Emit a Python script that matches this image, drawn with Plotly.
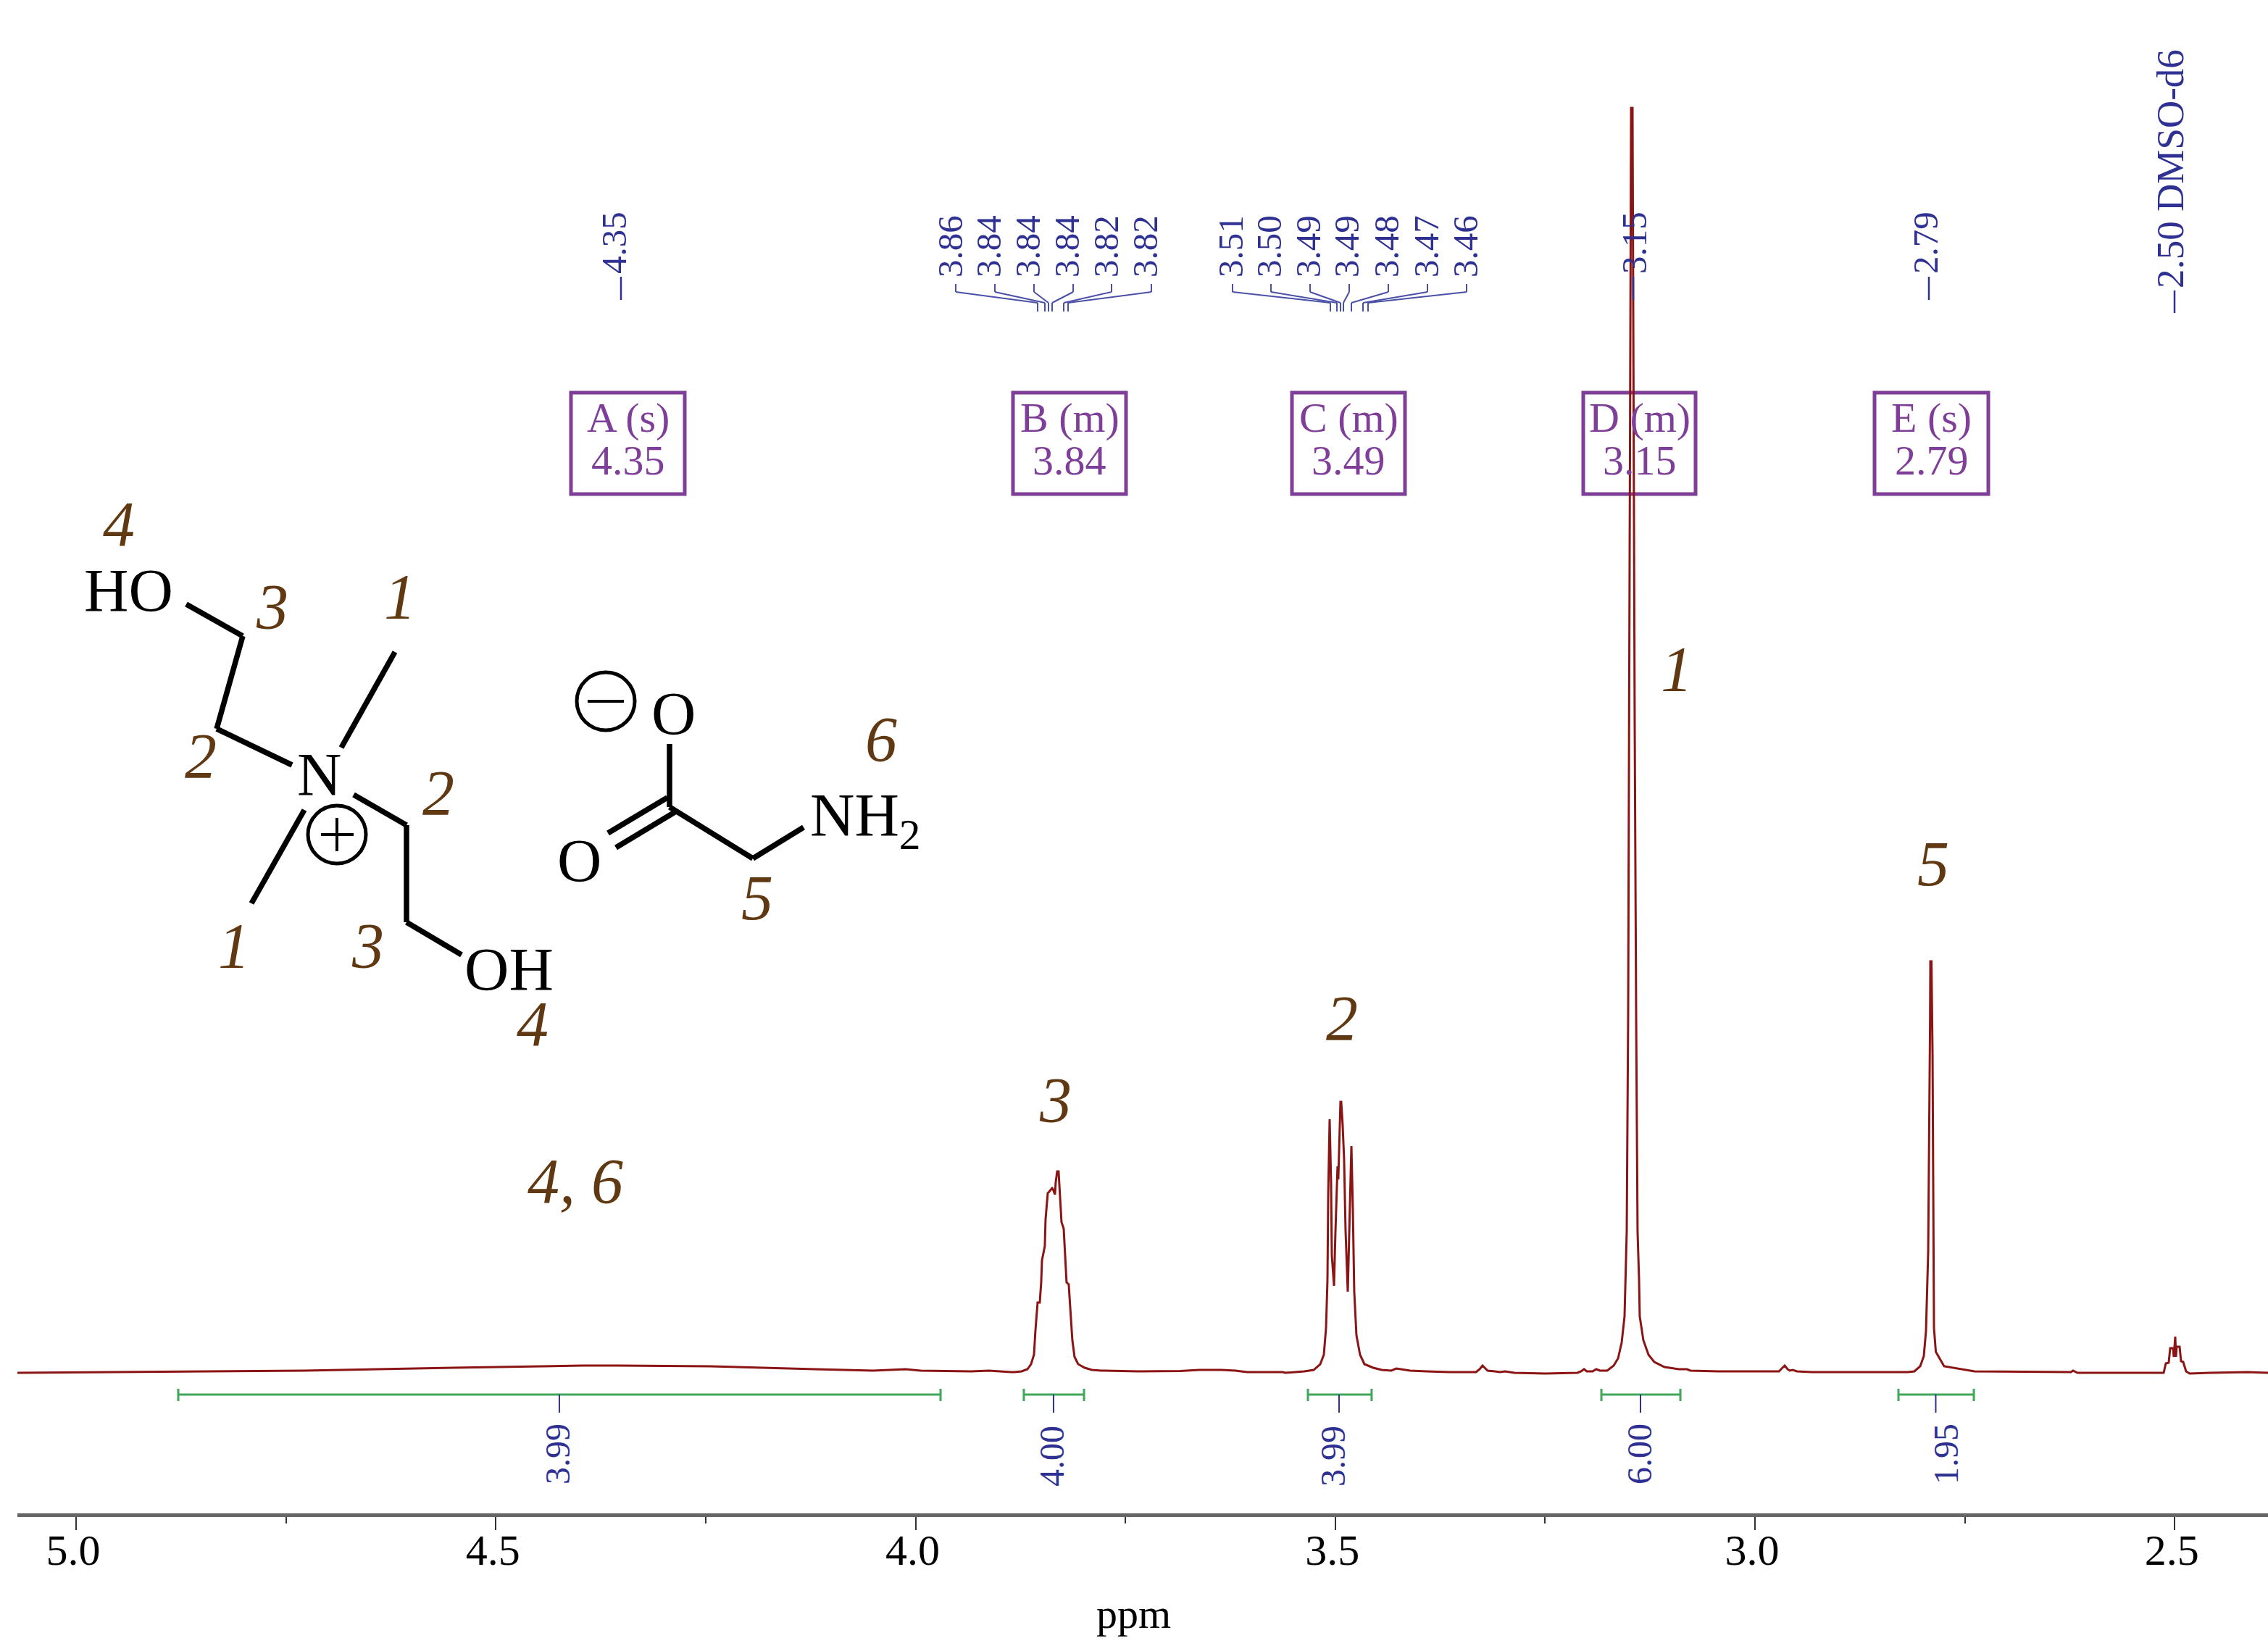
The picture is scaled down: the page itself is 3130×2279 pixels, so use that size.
import plotly.graph_objects as go

W, H = 3130, 2279
SERIF = "Liberation Serif"
RED = "#8b1414"; BLUE = "#2e3192"; PURPLE = "#7f3f98"; GREEN = "#3fa65a"; BROWN = "#603913"; INK = "#000000"

# ---------- spectrum ----------
ppm = [5.0699,4.8576,4.7281,4.5511,4.3975,4.3526,4.2447,4.1196,4.0505,4.0117,3.9944,3.9340,3.9124,3.8865,
 3.8822,3.8736,3.8667,3.8624,3.8589,3.8572,3.8546,3.8520,3.8503,3.8494,3.8460,3.8451,3.8425,3.8408,3.8373,3.8365,
 3.8339,3.8330,3.8313,3.8296,3.8279,3.8261,3.8235,3.8201,3.8175,3.8158,3.8132,3.8106,3.8063,3.7985,3.7899,3.7787,
 3.7346,3.6845,3.6621,3.6353,3.6189,3.6051,3.5628,3.5593,3.5369,3.5257,3.5179,3.5136,3.5110,3.5093,3.5084,3.5067,
 3.5050,3.5041,3.5015,3.4998,3.4981,3.4973,3.4964,3.4947,3.4938,3.4929,3.4912,3.4895,3.4877,3.4851,3.4834,3.4817,
 3.4808,3.4791,3.4774,3.4748,3.4705,3.4653,3.4549,3.4446,3.4333,3.4273,3.4109,3.3910,3.3643,3.3323,3.3280,3.3246,
 3.3211,3.3185,3.3099,3.3039,3.2978,3.2866,3.2495,3.2115,3.2072,3.2037,3.2003,3.1934,3.1891,3.1847,3.1761,3.1683,
 3.1631,3.1588,3.1554,3.1545,3.1528,3.1511,3.1498,3.1485,3.1476,3.1459,3.1450,3.1433,3.1416,3.1399,3.1381,3.1373,
 3.1330,3.1269,3.1200,3.1079,3.0907,3.0812,3.0769,3.0432,2.9905,2.9715,2.9681,2.9646,2.9612,2.9586,2.9551,2.9500,
 2.9327,2.8179,2.8101,2.8032,2.7989,2.7963,2.7937,2.7920,2.7915,2.7911,2.7898,2.7885,2.7877,2.7868,2.7846,2.7747,
 2.7385,2.6237,2.6211,2.6159,2.5132,2.5106,2.5072,2.5054,2.5020,2.5011,2.4994,2.4985,2.4977,2.4942,2.4925,2.4899,
 2.4865,2.4821,2.4580,2.4131,2.3889]
intensity = [0,2,3,7,10,10,9,5,3,5,3,2,3,1,
 1,2,5,12,25,58,97,97,125,155,175,212,248,250,255,254,
 246,263,278,278,238,208,199,125,122,92,45,22,12,7,4,3,
 2,2.5,4,4,3,1,1,0,2,4,12,25,62,128,245,350,
 262,162,120,195,268,285,267,328,374,374,342,295,195,112,195,295,
 313,228,112,52,25,12,7,4,3,6,3,2,1,1,5,10,
 6,3,2,1,2,0,-1,0,2,5,2,2,5,3,3,10,
 20,42,78,128,195,495,895,1395,1746,1746,1395,895,495,195,128,78,
 45,25,15,8,5,5,3,2,2,2,6,10,5,3,4,2,
 1,1,2,9,23,58,167,362,478,568,568,439,245,62,29,9,
 2,1,3,0,0,13,14,34,34,22,50,22,36,36,16,15,
 2,-1,0,1,0]

# ---------- integrals ----------
int_start = [4.8783, 3.8710, 3.5326, 3.1830, 2.8291]
int_end   = [3.9702, 3.7993, 3.4567, 3.0889, 2.7393]
int_stem  = [4.4243, 3.8356, 3.4955, 3.1364, 2.7847]
int_vals  = ["3.99", "4.00", "3.99", "6.00", "1.95"]

# ---------- text ----------
tick_vals = [5.0, 4.5, 4.0, 3.5, 3.0, 2.5]
tick_text = ["5.0", "4.5", "4.0", "3.5", "3.0", "2.5"]
peak_single = ["4.35", "3.15", "2.79"]
multi_b = ["3.86", "3.84", "3.84", "3.84", "3.82", "3.82"]
multi_c = ["3.51", "3.50", "3.49", "3.49", "3.48", "3.47", "3.46"]
box_top = ["A (s)", "B (m)", "C (m)", "D (m)", "E (s)"]
box_bot = ["4.35", "3.84", "3.49", "3.15", "2.79"]

# ---------- layout helpers (page pixels → paper fractions) ----------
PX = lambda x: x / W
PY = lambda y: 1 - y / H
ann = []; shp = []
def text(x, y, s, size, color, angle=0, xanchor="center"):
    ann.append(dict(x=PX(x), y=PY(y), xref="paper", yref="paper", text=s, showarrow=False, textangle=angle,
                    xanchor=xanchor, yanchor="middle", font=dict(family=SERIF, size=size, color=color)))
def seg(x0, y0, x1, y1, color, width, layer="above"):
    shp.append(dict(type="line", xref="paper", yref="paper", x0=PX(x0), y0=PY(y0), x1=PX(x1), y1=PY(y1),
                    line=dict(color=color, width=width), layer=layer))

fig = go.Figure()
fig.add_trace(go.Scatter(x=ppm, y=intensity, mode="lines", line=dict(color=RED, width=3), hoverinfo="skip"))

# integrals through the data axes
INT_Y, TICK_A, TICK_B, STEM_B = -30, -22, -39, -55
for a, b, c in zip(int_start, int_end, int_stem):
    fig.add_trace(go.Scatter(x=[a, a, a, b, b, b], y=[TICK_A, TICK_B, INT_Y, INT_Y, TICK_A, TICK_B], mode="lines",
                             line=dict(color=GREEN, width=3), hoverinfo="skip"))
    fig.add_trace(go.Scatter(x=[c, c], y=[INT_Y, STEM_B], mode="lines", line=dict(color=BLUE, width=2), hoverinfo="skip"))
for v, x, y in zip(int_vals, [769, 1451, 1839, 2262, 2685], [2007, 2010, 2010, 2007, 2007]):
    text(x, y, v, 48, BLUE, -90)

# single-peak labels
for v, x, sx in zip(peak_single, [848, 2256, 2658], [857, 2254, 2662]):
    text(x, 335, v, 49, BLUE, -90)
    seg(sx, 382, sx, 414, BLUE, 2.5)
text(2995, 233, "2.50 DMSO-d6", 53, BLUE, -90)
seg(3001, 401, 3001, 432, BLUE, 2.5)

# multiplet labels
for labels, tx, top, low in (
    (multi_b, [1311, 1364, 1418, 1472, 1526, 1580], [1319, 1373, 1427, 1481, 1534, 1589], [1432, 1442, 1447, 1452, 1468, 1474]),
    (multi_c, [1698, 1751, 1805, 1858, 1913, 1968, 2022], [1701, 1754, 1808, 1862, 1916, 1970, 2024], [1836, 1845, 1850, 1854, 1865, 1881, 1888]),
):
    for v, a, b, c in zip(labels, tx, top, low):
        text(a, 340, v, 49, BLUE, -90)
        seg(b, 392, b, 403, "#4a50a8", 2)
        seg(b, 403, c, 418, "#4a50a8", 2)
        seg(c, 418, c, 430, "#4a50a8", 2)

# assignment boxes
for t, b, x0, x1 in zip(box_top, box_bot, [788, 1398, 1783, 2185, 2587], [945, 1554, 1939, 2340, 2744]):
    shp.append(dict(type="rect", xref="paper", yref="paper", x0=PX(x0), x1=PX(x1), y0=PY(542), y1=PY(682),
                    line=dict(color=PURPLE, width=5), layer="below"))
    c = (x0 + x1) / 2
    text(c, 577, t, 58, PURPLE)
    text(c, 635, b, 58, PURPLE)

# brown assignment numbers
for s, x, y in [("4",164,723),("3",375,837),("1",552,824),("2",277,1043),("2",605,1094),("1",323,1305),("3",507,1305),
                ("4",735,1414),("6",1216,1020),("5",1045,1239),("1",2314,924),("5",2668,1192),("2",1852,1405),("3",1456,1518),("4, 6",794,1630)]:
    text(x, y, "<i>%s</i>" % s, 88, BROWN)

# structure
for s, x, y in [("HO",177,815),("N",440,1069),("OH",702,1338),("O",929,985),("O",799,1188)]:
    text(x, y, s, 85, INK)
text(1116, 1131, "NH<sub>2</sub>", 85, INK, xanchor="left")
for pts in ([(257,834),(335,878),(299,1006),(403,1056)], [(471,1032),(545,900)], [(420,1118),(347,1247)],
            [(488,1097),(561,1139),(561,1273),(637,1318)], [(924,1027),(924,1114),(1039,1185),(1109,1142)],
            [(921,1101),(839,1150)], [(933,1120),(850,1170)]):
    for (a, b), (c, d) in zip(pts[:-1], pts[1:]):
        seg(a, b, c, d, INK, 7.5)
for cx, cy in [(465, 1152), (836, 968)]:
    shp.append(dict(type="circle", xref="paper", yref="paper", x0=PX(cx-40), x1=PX(cx+40), y0=PY(cy-40), y1=PY(cy+40),
                    line=dict(color=INK, width=5)))
seg(443, 1152, 488, 1152, INK, 4); seg(465, 1129, 465, 1175, INK, 4); seg(811, 968, 861, 968, INK, 4)

text(1564, 2227, "ppm", 58, INK)

fig.update_layout(
    width=W, height=H, margin=dict(l=0, r=0, t=0, b=0), paper_bgcolor="white", plot_bgcolor="white", showlegend=False,
    annotations=ann, shapes=shp,
    xaxis=dict(domain=[24 / W, 1], range=[5.0699, 2.3889], showgrid=False, zeroline=False, showline=True, linecolor="#666666",
               linewidth=4.5, ticks="outside", ticklen=18, tickwidth=2, tickcolor="#333333", tickvals=tick_vals, ticktext=tick_text,
               tickfont=dict(family=SERIF, size=60, color=INK), ticklabelstandoff=-24, ticklabelshift=4,
               minor=dict(dtick=0.25, tick0=0, ticks="outside", ticklen=9, tickwidth=2, tickcolor="#333333", showgrid=False)),
    yaxis=dict(domain=[(H - 2089) / H, 1], range=[-194, 1895], visible=False),
)
# The browser's default 8px page margin would otherwise push the whole figure down and to the right.
fig.write_html("out.html", config=dict(displayModeBar=False),
               post_script="document.body.style.margin='0';document.documentElement.style.overflow='hidden';")
